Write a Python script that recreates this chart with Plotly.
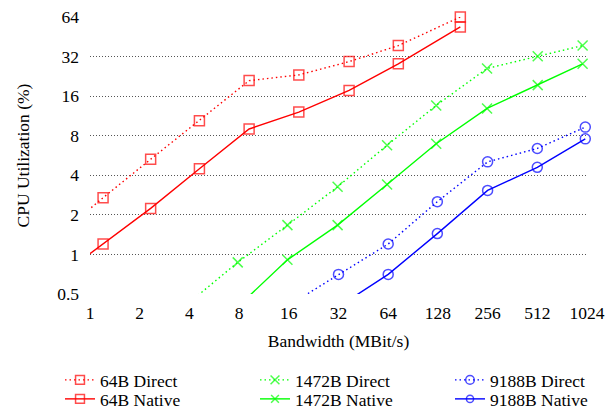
import math
import plotly.graph_objects as go

# Bandwidth (MBit/s) sample points; first point of some series lies left/below the visible range
bw_64 = [0.6, 1.2, 2.33, 4.6, 9.2, 18.4, 37.1, 73.7, 175]
cpu_64_direct = [1.3, 2.7, 5.3, 10.4, 21.0, 23.2, 29.3, 38.8, 64.0]
cpu_64_native = [0.63, 1.2, 2.24, 4.48, 9.0, 12.1, 17.7, 28.2, 53.8]

bw_1472 = [3.9, 7.85, 15.7, 31.6, 63.0, 125, 254, 515, 963]
cpu_1472_direct = [0.42, 0.87, 1.67, 3.27, 6.77, 13.6, 26.0, 32.2, 38.8]
cpu_1472_native = [0.2, 0.4, 0.91, 1.67, 3.4, 6.95, 12.9, 19.4, 28.2]

bw_9188 = [16, 32, 64, 127, 256, 512, 1000]
cpu_9188_direct = [0.41, 0.705, 1.2, 2.52, 5.06, 6.4, 9.3]
cpu_9188_native = [0.2, 0.4, 0.705, 1.44, 3.07, 4.6, 7.57]

x_ticks = [1, 2, 4, 8, 16, 32, 64, 128, 256, 512, 1024]
y_ticks = [0.5, 1, 2, 4, 8, 16, 32, 64]
y_tick_labels = ["0.5", "1", "2", "4", "8", "16", "32", "64"]

X_MIN, X_MAX = 1, 1024
Y_MIN, Y_MAX = 0.5, 64

RED, GREEN, BLUE = "#ff0000", "#00ff00", "#0000ff"
DOT = "1.5px,3px"

series = [
    ("64B Direct", bw_64, cpu_64_direct, RED, DOT, "square-open", "legend"),
    ("1472B Direct", bw_1472, cpu_1472_direct, GREEN, DOT, "x-thin-open", "legend"),
    ("9188B Direct", bw_9188, cpu_9188_direct, BLUE, DOT, "circle-open", "legend"),
    ("64B Native", bw_64, cpu_64_native, RED, "solid", "square-open", "legend2"),
    ("1472B Native", bw_1472, cpu_1472_native, GREEN, "solid", "x-thin-open", "legend2"),
    ("9188B Native", bw_9188, cpu_9188_native, BLUE, "solid", "circle-open", "legend2"),
]

MS = 10
fig = go.Figure()
for name, xs, ys, col, dash, sym, leg in series:
    sizes = [MS if (X_MIN <= x <= X_MAX and Y_MIN <= y <= Y_MAX) else 0 for x, y in zip(xs, ys)]
    fig.add_trace(go.Scatter(
        x=xs, y=ys, name=name, mode="lines+markers", legend=leg,
        line=dict(color=col, width=1.4, dash=dash),
        marker=dict(symbol=sym, size=sizes, color=col, line=dict(color=col, width=1.5)),
        cliponaxis=False,
    ))

FONT = "Liberation Serif"
FS = 17.5
PLOT_L, PLOT_T, PLOT_B = 90, 17, 294
PLOT_H = PLOT_B - PLOT_T
PLOT_W = 587 - PLOT_L


def legend_box(top_px):
    return dict(
        orientation="h", xref="paper", yref="paper",
        x=(60 - PLOT_L) / PLOT_W, xanchor="left",
        y=(PLOT_B - top_px) / PLOT_H, yanchor="top",
        entrywidth=150, entrywidthmode="pixels",
        font=dict(family=FONT, size=FS), tracegroupgap=0,
        bgcolor="rgba(0,0,0,0)", borderwidth=0,
    )


fig.update_layout(
    width=616, height=408,
    margin=dict(l=PLOT_L, r=616 - 587, t=PLOT_T, b=408 - PLOT_B, autoexpand=False),
    paper_bgcolor="white", plot_bgcolor="white",
    font=dict(family=FONT, size=FS, color="black"),
    showlegend=True,
    legend=legend_box(362),
    legend2=legend_box(381),
    xaxis=dict(
        type="log", range=[math.log10(X_MIN), math.log10(X_MAX)],
        tickvals=x_ticks, ticktext=[str(v) for v in x_ticks],
        showgrid=False, zeroline=False, showline=False, ticks="",
        ticklabelstandoff=6, automargin=False,
        title=dict(text="Bandwidth (MBit/s)", standoff=13, font=dict(size=FS)),
    ),
    yaxis=dict(
        type="log", range=[math.log10(Y_MIN), math.log10(Y_MAX)],
        tickvals=y_ticks, ticktext=y_tick_labels,
        showgrid=True, gridcolor="#555555", griddash="1px,2px", gridwidth=1,
        zeroline=False, showline=False, ticks="",
        ticklabelstandoff=10, automargin=False,
        title=dict(text="CPU Utilization (%)", standoff=23, font=dict(size=FS)),
    ),
)

fig.write_html("out.html", config={"displayModeBar": False},
               post_script="document.body.style.margin='0';")
